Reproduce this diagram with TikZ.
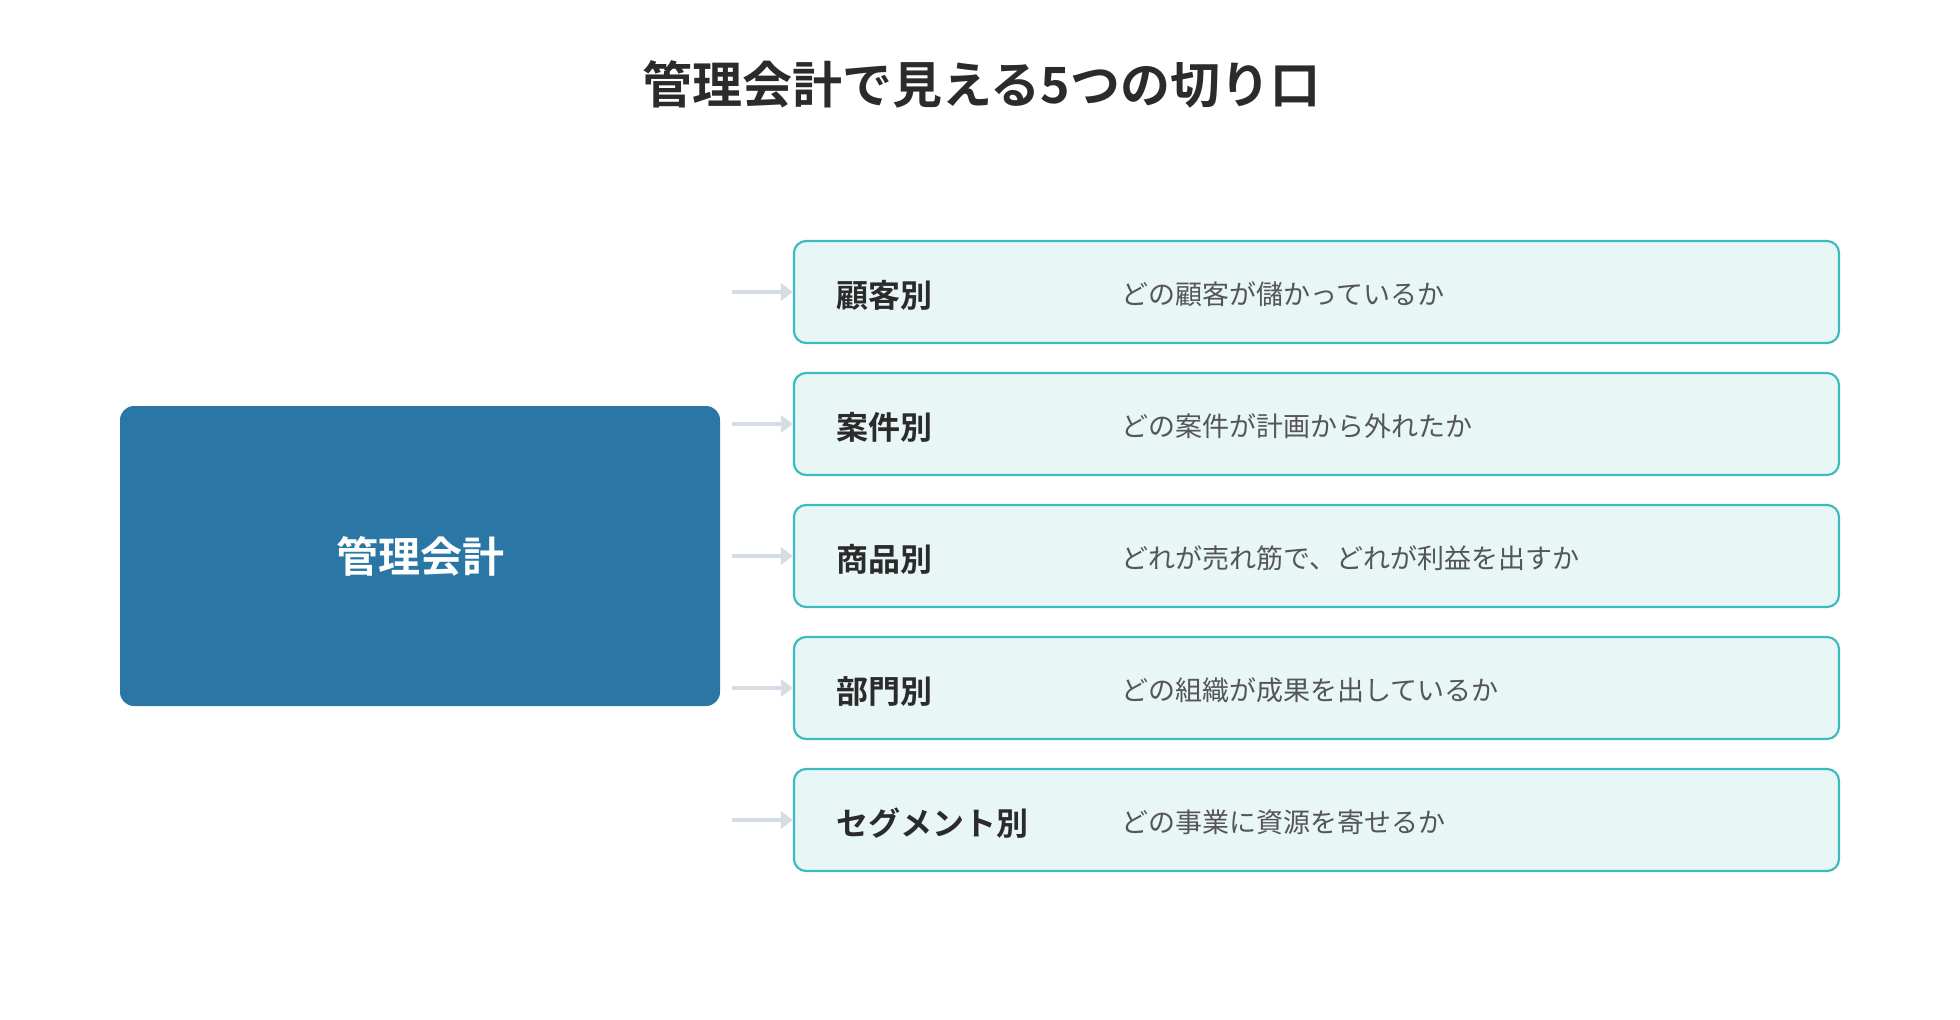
\documentclass[tikz,border=0pt]{standalone}
\usepackage{fontspec}
\setmainfont{Noto Sans CJK JP}
\newfontfamily\jpbold{Noto Sans CJK JP Bold}
\usetikzlibrary{positioning,arrows.meta}
\definecolor{hubblue}{HTML}{2A77A5}
\definecolor{rowfill}{HTML}{E8F6F6}
\definecolor{rowline}{HTML}{3BBDBD}
\definecolor{arrowgray}{HTML}{D5DCE3}
\definecolor{txtdark}{HTML}{2B2B2B}
\definecolor{txtgray}{HTML}{555555}
\begin{document}
\begin{tikzpicture}[x=1pt,y=-1pt,
    hub/.style={fill=hubblue,rounded corners=14pt,minimum width=600pt,minimum height=300pt,
        inner sep=0pt,text=white,font=\jpbold\fontsize{42}{48}\selectfont},
    row/.style={draw=rowline,line width=2.2pt,fill=rowfill,rounded corners=12pt,
        minimum width=1045pt,minimum height=102pt,inner sep=0pt},
    lbl/.style={anchor=west,text=txtdark,font=\jpbold\fontsize{32}{36}\selectfont},
    desc/.style={anchor=west,text=txtgray,font=\fontsize{27}{32}\selectfont},
    arr/.style={-{Triangle[length=12pt,width=17pt]},draw=arrowgray,line width=4pt}]
    \useasboundingbox (0,0) rectangle (1960,1020);

    \node[text=txtdark,font=\jpbold\fontsize{50}{56}\selectfont] (title) at (981,84) {管理会計で見える5つの切り口};
    \node[hub] (hub) at (420,556) {管理会計};

    \foreach \i/\lab/\txt in {0/顧客別/どの顧客が儲かっているか,
        1/案件別/どの案件が計画から外れたか,
        2/商品別/どれが売れ筋で、どれが利益を出すか,
        3/部門別/どの組織が成果を出しているか,
        4/セグメント別/どの事業に資源を寄せるか}{
      \node[row] (row\i) at (1316.5,292+132*\i) {};
      \node[lbl] (lab\i) at (833,295+132*\i) {\lab};
      \node[desc] (desc\i) at (1118,294+132*\i) {\txt};
      \coordinate (tail\i) at (732,292+132*\i);
      \draw[arr] (tail\i) -- (row\i.west);
    }
\end{tikzpicture}
\end{document}
